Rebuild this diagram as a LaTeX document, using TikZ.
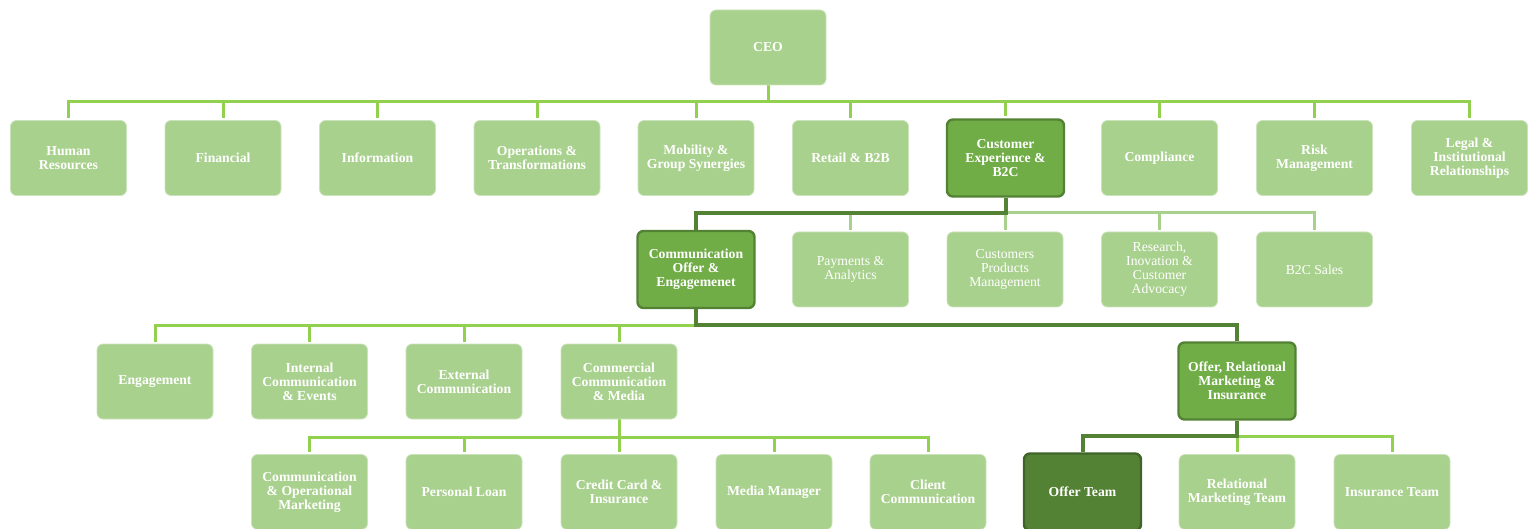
\documentclass[tikz,border=0pt]{standalone}
\usepackage{fontspec}
\setmainfont{Liberation Serif}
\usetikzlibrary{backgrounds}
\definecolor{boxlight}{HTML}{A9D18E}
\definecolor{boxmid}{HTML}{70AD47}
\definecolor{boxdark}{HTML}{548235}
\definecolor{edgedark}{HTML}{3F6428}
\definecolor{linelight}{HTML}{92D050}
\definecolor{linepale}{HTML}{A9D18E}
\definecolor{linedark}{HTML}{548235}
\begin{document}
\begin{tikzpicture}[x=0.5pt,y=-0.5pt,
 box/.style={rectangle, rounded corners=3pt, minimum width=58pt, minimum height=37.5pt, inner sep=1pt, align=center, text=white, font=\fontsize{6.85}{7}\selectfont\bfseries, fill=boxlight, draw=boxlight!60!white, line width=0.4pt},
 boxplain/.style={box, font=\fontsize{6.85}{7}\selectfont},
 boxmidst/.style={box, fill=boxmid, draw=linedark, line width=1.2pt, minimum width=58.5pt, minimum height=38.5pt},
 boxdarkst/.style={box, fill=boxdark, draw=edgedark, line width=1.2pt, minimum width=58.5pt, minimum height=38.5pt},
 lline/.style={draw=linelight, line width=1.5pt, shorten >=1pt},
 pline/.style={draw=linepale, line width=1.5pt, shorten >=1pt},
 dline/.style={draw=linedark, line width=2pt},
]
\useasboundingbox (0,0) rectangle (1531,529);
\clip (0,0) rectangle (1531,529);

% CEO
\node[box] (ceo) at (768,47.5) {CEO};

% level 1
\node[box] (hr) at (68.5,158) {Human\\Resources};
\node[box] (fin) at (223,158) {Financial};
\node[box] (info) at (377.5,158) {Information};
\node[box, minimum width=63pt] (ops) at (537,158) {Operations \&\\Transformations};
\node[box] (mob) at (696,158) {Mobility \&\\Group Synergies};
\node[box] (ret) at (850.5,158) {Retail \& B2B};
\node[boxmidst] (cx) at (1005.5,158) {Customer\\Experience \&\\B2C};
\node[box] (comp) at (1159.5,158) {Compliance};
\node[box] (risk) at (1314.5,158) {Risk\\Management};
\node[box] (legal) at (1469.5,158) {Legal \&\\Institutional\\Relationships};

% level 2
\node[boxmidst] (cof) at (696,269.5) {Communication\\Offer \&\\Engagemenet};
\node[boxplain] (pay) at (850.5,269.5) {Payments \&\\Analytics};
\node[boxplain] (cpm) at (1005,269.5) {Customers\\Products\\Management};
\node[boxplain] (res) at (1159.5,269.5) {Research,\\Inovation \&\\Customer\\Advocacy};
\node[boxplain] (b2c) at (1314.5,269.5) {B2C Sales};

% level 3
\node[box] (eng) at (155,381.5) {Engagement};
\node[box] (int) at (309.5,381.5) {Internal\\Communication\\\& Events};
\node[box] (ext) at (464,381.5) {External\\Communication};
\node[box] (com) at (619,381.5) {Commercial\\Communication\\\& Media};
\node[boxmidst] (orm) at (1237,381) {Offer, Relational\\Marketing \&\\Insurance};

% level 4
\node[box] (cop) at (309.5,492) {Communication\\\& Operational\\Marketing};
\node[box] (pl) at (464,492) {Personal Loan};
\node[box] (cc) at (619,492) {Credit Card \&\\Insurance};
\node[box] (mm) at (774,492) {Media Manager};
\node[box] (cl) at (928,492) {Client\\Communication};
\node[boxdarkst] (ot) at (1082.5,492) {Offer Team};
\node[box] (rmt) at (1237,492) {Relational\\Marketing Team};
\node[box] (ins) at (1392,492) {Insurance Team};

\begin{scope}[on background layer]
 % CEO bar
 \coordinate (j1) at (ceo.south |- 0,102);
 \draw[lline, shorten >=0pt] (ceo.south) -- (j1);
 \foreach \n in {hr,fin,info,ops,mob,ret,cx,comp,risk,legal}
   \draw[lline] (j1) -| (\n.north);
 % CX bar
 \coordinate (j2) at (cx.south |- 0,213);
 \foreach \n in {pay,cpm,res,b2c}
   \draw[pline] (j2) -| (\n.north);
 % Communication offer bar
 \coordinate (j3) at (cof.south |- 0,325);
 \foreach \n in {eng,int,ext,com}
   \draw[lline] (j3) -| (\n.north);
 % Commercial bar
 \coordinate (j4) at (com.south |- 0,437);
 \draw[lline, shorten >=0pt] (com.south) -- (j4);
 \foreach \n in {cop,pl,cc,mm,cl}
   \draw[lline] (j4) -| (\n.north);
 % Offer relational bar
 \coordinate (j5) at (orm.south |- 0,436);
 \foreach \n in {rmt,ins}
   \draw[lline] (j5) -| (\n.north);
 % highlighted path
 \draw[dline] (cx.south) -- (j2) -| (cof.north);
 \draw[dline] (cof.south) -- (j3) -| (orm.north);
 \draw[dline] (orm.south) -- (j5) -| (ot.north);
\end{scope}
\end{tikzpicture}
\end{document}
